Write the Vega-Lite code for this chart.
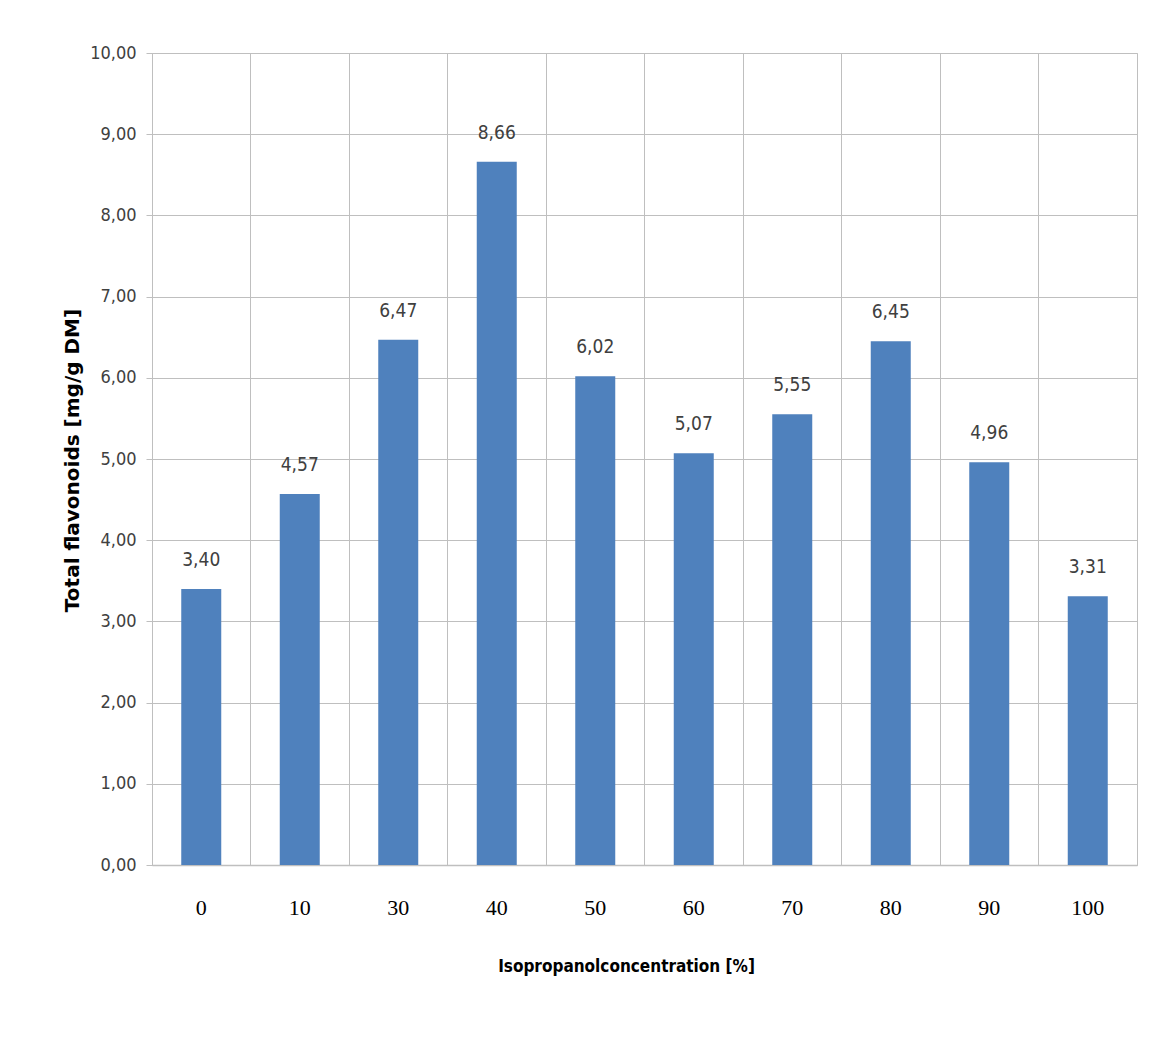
{
  "$schema": "https://vega.github.io/schema/vega-lite/v6.json",
  "autosize": {"type": "none"},
  "width": 985,
  "height": 812,
  "padding": {"left": 152, "top": 53, "right": 25, "bottom": 179},
  "background": "#ffffff",
  "config": {
    "locale": {"number": {"decimal": ",", "thousands": ".", "grouping": [3], "currency": ["", " €"]}},
    "view": {"stroke": "#bfbfbf", "strokeWidth": 1},
    "axis": {"gridColor": "#bfbfbf", "gridWidth": 1, "domainColor": "#bfbfbf", "tickColor": "#bfbfbf"}
  },
  "data": {
    "values": [
      {"conc": "0", "value": 3.40},
      {"conc": "10", "value": 4.57},
      {"conc": "30", "value": 6.47},
      {"conc": "40", "value": 8.66},
      {"conc": "50", "value": 6.02},
      {"conc": "60", "value": 5.07},
      {"conc": "70", "value": 5.55},
      {"conc": "80", "value": 6.45},
      {"conc": "90", "value": 4.96},
      {"conc": "100", "value": 3.31}
    ]
  },
  "encoding": {
    "x": {
      "field": "conc",
      "type": "ordinal",
      "sort": null,
      "scale": {"paddingInner": 0, "paddingOuter": 0},
      "axis": {
        "title": "Isopropanolconcentration  [%]",
        "titleFont": "Liberation Sans Narrow, DejaVu Sans Condensed, sans-serif",
        "titleFontSize": 17,
        "titleFontWeight": "bold",
        "titleColor": "#000000",
        "titleX": 474,
        "titleY": 101,
        "titleBaseline": "middle",
        "labelAngle": 0,
        "labelFont": "Liberation Serif, Times New Roman, serif",
        "labelFontSize": 22,
        "labelColor": "#000000",
        "labelPadding": 42,
        "labelBaseline": "middle",
        "ticks": false,
        "grid": true,
        "bandPosition": 0,
        "domainColor": "#bfbfbf",
        "domainWidth": 1.5
      }
    }
  },
  "layer": [
    {
      "mark": {"type": "bar", "size": 40, "color": "#4f81bd"},
      "encoding": {
        "y": {
          "field": "value",
          "type": "quantitative",
          "scale": {"domain": [0, 10], "nice": false},
          "axis": {
            "title": "Total flavonoids [mg/g DM]",
            "titleFont": "DejaVu Sans, Verdana, sans-serif",
            "titleFontSize": 20,
            "titleFontWeight": "bold",
            "titleColor": "#000000",
            "titleX": -80,
            "titleY": 407,
            "titleAngle": -90,
            "titleAlign": "center",
            "titleBaseline": "middle",
            "values": [0, 1, 2, 3, 4, 5, 6, 7, 8, 9, 10],
            "format": ".2f",
            "labelFont": "Liberation Sans Narrow, DejaVu Sans Condensed, sans-serif",
            "labelFontSize": 18,
            "labelColor": "#404040",
            "labelPadding": 10,
            "tickSize": 6,
            "grid": true,
            "domainColor": "#bfbfbf"
          }
        }
      }
    },
    {
      "mark": {
        "type": "text",
        "baseline": "middle",
        "dy": -29,
        "font": "Liberation Sans Narrow, DejaVu Sans Condensed, sans-serif",
        "fontSize": 19,
        "color": "#404040"
      },
      "encoding": {
        "y": {"field": "value", "type": "quantitative"},
        "text": {"field": "value", "type": "quantitative", "format": ".2f"}
      }
    }
  ]
}
